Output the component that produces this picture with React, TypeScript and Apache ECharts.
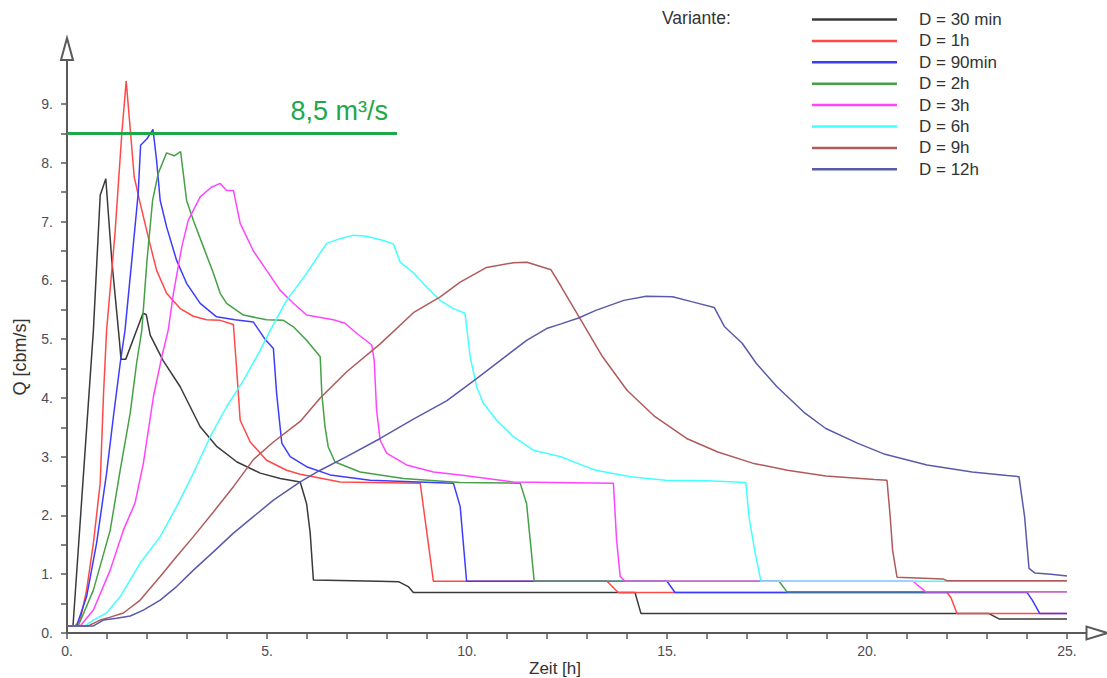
import React, { useEffect, useRef } from "react";
import * as echarts from "echarts";

const FONT = "'Liberation Sans', Arial, sans-serif";

const seriesNames = ["D = 30 min", "D = 1h", "D = 90min", "D = 2h", "D = 3h", "D = 6h", "D = 9h", "D = 12h"];
const seriesColors = ["#3a3a3a", "#ff4848", "#3c3cff", "#46a046", "#ff44ff", "#44ffff", "#b05a5a", "#5a5aaa"];

const d30min: number[][] = [
  [0, 0.12], [0.15, 0.12], [0.66, 5.15], [0.83, 7.45], [0.97, 7.73], [1.12, 6.34], [1.31, 4.98], [1.35, 4.66],
  [1.47, 4.66], [1.9, 5.44], [1.98, 5.42], [2.08, 5.07], [2.4, 4.64], [2.83, 4.19], [3.33, 3.51], [3.75, 3.17],
  [4.25, 2.91], [4.83, 2.72], [5.33, 2.63], [5.83, 2.57], [5.99, 2.2], [6.08, 1.7], [6.16, 0.9], [7.8, 0.88],
  [8.3, 0.87], [8.53, 0.79], [8.66, 0.69], [14.2, 0.69], [14.35, 0.33], [23.05, 0.33], [23.3, 0.24], [25, 0.24],
];
const d1h: number[][] = [
  [0, 0.12], [0.2, 0.12], [0.33, 0.22], [0.49, 0.73], [0.66, 1.53], [0.83, 2.55], [0.91, 4.02], [0.99, 5.15],
  [1.2, 6.8], [1.37, 8.5], [1.48, 9.39], [1.59, 8.5], [1.68, 7.76], [1.83, 7.31], [2.03, 6.74], [2.24, 6.17],
  [2.49, 5.78], [2.83, 5.52], [3.16, 5.39], [3.49, 5.33], [3.83, 5.32], [4.16, 5.25], [4.24, 4.5], [4.33, 3.62],
  [4.58, 3.25], [4.99, 2.94], [5.49, 2.77], [5.83, 2.7], [6.83, 2.57], [8.83, 2.55], [9.16, 0.88], [13.5, 0.88],
  [13.78, 0.69], [22.0, 0.69], [22.1, 0.6], [22.25, 0.33], [25, 0.33],
];
const d90min: number[][] = [
  [0, 0.12], [0.24, 0.12], [0.49, 0.62], [0.74, 1.53], [0.99, 2.72], [1.16, 3.68], [1.33, 4.59], [1.45, 5.15],
  [1.62, 6.34], [1.78, 7.48], [1.84, 8.3], [2.0, 8.41], [2.15, 8.57], [2.24, 8.04], [2.33, 7.36], [2.49, 6.91],
  [2.74, 6.34], [2.99, 5.95], [3.33, 5.61], [3.74, 5.38], [4.2, 5.33], [4.66, 5.29], [4.95, 5.0], [5.16, 4.84],
  [5.24, 4.08], [5.37, 3.23], [5.58, 3.0], [5.99, 2.83], [6.58, 2.69], [7.58, 2.6], [9.66, 2.55], [9.83, 2.15],
  [9.99, 0.88], [15.0, 0.88], [15.2, 0.69], [24.0, 0.69], [24.14, 0.55], [24.32, 0.33], [25, 0.33],
];
const d2h: number[][] = [
  [0, 0.12], [0.28, 0.12], [0.66, 0.73], [1.08, 1.75], [1.33, 2.77], [1.58, 3.74], [1.74, 4.59], [1.87, 5.15],
  [2.0, 6.34], [2.14, 7.36], [2.28, 7.82], [2.49, 8.17], [2.68, 8.12], [2.84, 8.19], [2.99, 7.36], [3.16, 7.02],
  [3.41, 6.57], [3.66, 6.12], [3.83, 5.78], [3.99, 5.61], [4.41, 5.41], [4.99, 5.33], [5.41, 5.32], [5.66, 5.21],
  [5.99, 4.98], [6.33, 4.7], [6.37, 4.08], [6.45, 3.51], [6.53, 3.17], [6.7, 2.91], [7.33, 2.74], [8.41, 2.63],
  [9.83, 2.56], [11.33, 2.55], [11.49, 2.2], [11.58, 1.58], [11.68, 0.88], [17.8, 0.88], [18.0, 0.7], [25, 0.7],
];
const d3h: number[][] = [
  [0, 0.12], [0.33, 0.12], [0.66, 0.39], [1.08, 1.07], [1.41, 1.75], [1.7, 2.21], [1.91, 2.89], [2.16, 4.02],
  [2.37, 4.7], [2.53, 5.15], [2.66, 5.78], [2.87, 6.57], [3.03, 7.02], [3.33, 7.42], [3.6, 7.58], [3.83, 7.65],
  [3.99, 7.53], [4.16, 7.53], [4.33, 6.97], [4.66, 6.5], [4.99, 6.17], [5.33, 5.83], [5.66, 5.61], [5.99, 5.41],
  [6.66, 5.33], [6.95, 5.27], [7.24, 5.1], [7.62, 4.9], [7.68, 4.64], [7.74, 3.79], [7.83, 3.28], [7.99, 3.06],
  [8.49, 2.86], [9.16, 2.74], [9.83, 2.69], [11.16, 2.57], [13.66, 2.55], [13.74, 1.58], [13.83, 0.96],
  [13.95, 0.88], [21.15, 0.88], [21.47, 0.7], [25, 0.7],
];
const d6h: number[][] = [
  [0, 0.12], [0.45, 0.12], [0.66, 0.22], [0.99, 0.34], [1.33, 0.62], [1.83, 1.19], [2.33, 1.64], [2.74, 2.15],
  [3.16, 2.72], [3.58, 3.34], [3.99, 3.85], [4.41, 4.3], [4.83, 4.81], [5.08, 5.15], [5.49, 5.66], [5.99, 6.12],
  [6.49, 6.63], [6.83, 6.71], [7.16, 6.77], [7.49, 6.75], [7.91, 6.68], [8.16, 6.62], [8.33, 6.31], [8.66, 6.13],
  [9.0, 5.88], [9.33, 5.66], [9.66, 5.52], [9.95, 5.44], [10.08, 4.7], [10.24, 4.19], [10.41, 3.91], [10.74, 3.62],
  [11.16, 3.34], [11.66, 3.11], [12.35, 3.0], [12.83, 2.87], [13.22, 2.77], [14.09, 2.66], [14.96, 2.6],
  [16.01, 2.59], [16.97, 2.56], [17.05, 1.98], [17.19, 1.41], [17.35, 0.88], [25, 0.88],
];
const d9h: number[][] = [
  [0, 0.12], [0.53, 0.12], [0.83, 0.22], [1.08, 0.27], [1.41, 0.34], [1.83, 0.56], [2.33, 0.96], [2.74, 1.3],
  [3.16, 1.64], [3.66, 2.06], [4.16, 2.49], [4.66, 2.95], [5.16, 3.25], [5.83, 3.6], [6.33, 4.0], [7.0, 4.45],
  [7.83, 4.92], [8.66, 5.45], [9.33, 5.72], [9.83, 5.97], [10.49, 6.22], [11.16, 6.3], [11.5, 6.31], [12.1, 6.18],
  [12.35, 5.9], [12.8, 5.38], [13.39, 4.7], [14.0, 4.13], [14.7, 3.68], [15.49, 3.31], [16.27, 3.08], [17.14, 2.89],
  [18.01, 2.77], [18.97, 2.67], [20.19, 2.61], [20.5, 2.6], [20.58, 1.98], [20.64, 1.41], [20.75, 0.95],
  [21.9, 0.92], [22.0, 0.89], [25, 0.89],
];
const d12h: number[][] = [
  [0, 0.12], [0.66, 0.12], [0.91, 0.22], [1.24, 0.25], [1.58, 0.29], [1.91, 0.39], [2.33, 0.56], [2.74, 0.79],
  [3.16, 1.07], [3.66, 1.38], [4.16, 1.7], [4.66, 1.98], [5.16, 2.26], [5.83, 2.57], [6.33, 2.77], [6.99, 3.0],
  [7.83, 3.31], [8.66, 3.64], [9.49, 3.95], [10.24, 4.33], [10.99, 4.72], [11.49, 4.98], [11.99, 5.18],
  [12.35, 5.26], [12.79, 5.36], [13.22, 5.49], [13.92, 5.66], [14.48, 5.73], [15.14, 5.72], [15.66, 5.63],
  [16.18, 5.54], [16.44, 5.21], [16.88, 4.93], [17.23, 4.59], [17.75, 4.19], [18.45, 3.74], [18.97, 3.48],
  [19.76, 3.23], [20.45, 3.04], [21.5, 2.86], [22.63, 2.74], [23.5, 2.68], [23.8, 2.66], [23.94, 1.98],
  [24.05, 1.1], [24.2, 1.02], [24.6, 1.0], [25, 0.97],
];

const seriesData = [d30min, d1h, d90min, d2h, d3h, d6h, d9h, d12h];

const xTickValues = [0, 1, 2, 3, 4, 5, 6, 7, 8, 9, 10, 11, 12, 13, 14, 15, 16, 17, 18, 19, 20, 21, 22, 23, 24, 25];
const xLabelValues = [0, 5, 10, 15, 20, 25];
const yTickValues = [0, 0.5, 1, 1.5, 2, 2.5, 3, 3.5, 4, 4.5, 5, 5.5, 6, 6.5, 7, 7.5, 8, 8.5, 9, 9.75];
const yLabelValues = [0, 1, 2, 3, 4, 5, 6, 7, 8, 9];

const limitStart = [0, 8.5];
const limitEnd = [8.25, 8.5];
const limitText = "8,5 m³/s";
const limitColor = "#1fa84a";

const legendTitle = "Variante:";
const xTitle = "Zeit [h]";
const yTitle = "Q [cbm/s]";

const AXIS_COLOR = "#5a5a5a";
const LABEL_COLOR = "#4c4c58";

export default function App() {
  const ref = useRef<HTMLDivElement>(null);

  useEffect(() => {
    if (!ref.current) return;
    const chart = echarts.init(ref.current, undefined, { renderer: "svg" });

    const lineSeries = seriesNames.map((name, i) => ({
      name,
      type: "line",
      data: seriesData[i],
      symbol: "none",
      showSymbol: false,
      smooth: false,
      lineStyle: { color: seriesColors[i], width: 1.5 },
      itemStyle: { color: seriesColors[i] },
      z: 2 + i,
    }));

    const option: any = {
      animation: false,
      backgroundColor: "#ffffff",
      textStyle: { fontFamily: FONT },
      grid: { left: 67, right: 20, top: 60, bottom: 45, containLabel: false, outerBoundsMode: "none" },
      legend: {
        data: seriesNames.map((name) => ({ name, icon: "rect" })),
        orient: "vertical",
        left: 807,
        top: 6,
        itemWidth: 85,
        itemHeight: 2.5,
        itemGap: 4.4,
        selectedMode: false,
        textStyle: { fontSize: 17, color: "#333333", fontFamily: FONT, padding: [0, 0, 0, 17] },
      },
      xAxis: {
        type: "value",
        min: 0,
        max: 25.5,
        splitLine: { show: false },
        axisLine: {
          show: true,
          onZero: false,
          lineStyle: { color: AXIS_COLOR, width: 2 },
          symbol: ["none", "emptyTriangle"],
          symbolSize: [13, 21],
          symbolOffset: [0, 10],
        },
        axisTick: { show: true, length: 6, lineStyle: { color: AXIS_COLOR, width: 1.5 }, customValues: xTickValues },
        axisLabel: {
          customValues: xLabelValues,
          formatter: (v: number) => `${v}.`,
          fontSize: 14,
          color: LABEL_COLOR,
          margin: 11,
          fontFamily: FONT,
        },
      },
      yAxis: {
        type: "value",
        min: 0,
        max: 9.75,
        splitLine: { show: false },
        axisLine: {
          show: true,
          onZero: false,
          lineStyle: { color: AXIS_COLOR, width: 2 },
          symbol: ["none", "emptyTriangle"],
          symbolSize: [12, 22],
          symbolOffset: [0, 11],
        },
        axisTick: { show: true, length: 6, lineStyle: { color: AXIS_COLOR, width: 1.5 }, customValues: yTickValues },
        axisLabel: {
          customValues: yLabelValues,
          formatter: (v: number) => `${v}.`,
          fontSize: 14,
          color: LABEL_COLOR,
          margin: 14,
          fontFamily: FONT,
        },
      },
      graphic: [
        {
          type: "text",
          left: 662,
          top: 9,
          style: { text: legendTitle, fontSize: 17.5, fill: "#333333", fontFamily: FONT },
        },
        {
          type: "text",
          x: 20,
          y: 357,
          rotation: Math.PI / 2,
          style: {
            text: yTitle,
            fontSize: 18,
            fill: "#333333",
            fontFamily: FONT,
            textAlign: "center",
            textVerticalAlign: "middle",
          },
        },
        {
          type: "text",
          x: 555,
          y: 660,
          style: {
            text: xTitle,
            fontSize: 17,
            fill: "#333333",
            fontFamily: FONT,
            textAlign: "center",
            textVerticalAlign: "top",
          },
        },
      ],
      series: [
        ...lineSeries,
        {
          name: "limit",
          type: "line",
          data: [],
          z: 20,
          markLine: {
            silent: true,
            symbol: "none",
            animation: false,
            lineStyle: { color: limitColor, width: 3, type: "solid" },
            label: {
              show: true,
              position: "insideEndTop",
              formatter: limitText,
              fontSize: 27,
              color: limitColor,
              fontFamily: FONT,
              distance: 9,
            },
            data: [[{ coord: limitStart }, { coord: limitEnd }]],
          },
        },
      ],
    };

    chart.setOption(option);
    return () => chart.dispose();
  }, []);

  return (
    <div
      ref={ref}
      style={{ position: "absolute", left: 0, top: 0, width: 1107, height: 678, background: "#fff" }}
    />
  );
}
